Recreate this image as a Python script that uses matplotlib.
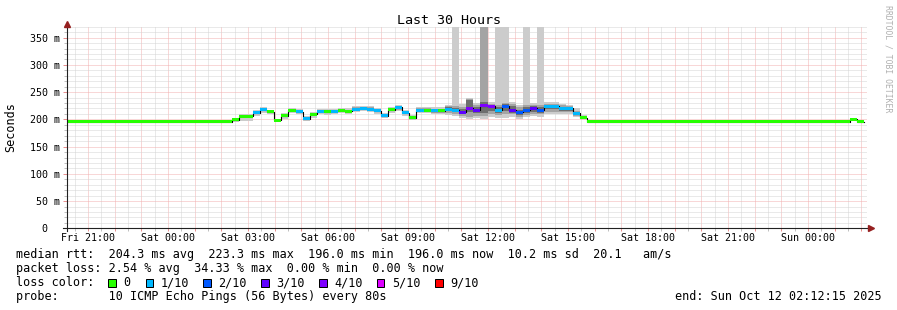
import numpy as np
import pandas as pd
import matplotlib
matplotlib.use("Agg")
import matplotlib.pyplot as plt
import matplotlib.dates as mdates
from matplotlib.patches import Rectangle

# ---- data (16 minute bins, values in ms) ----
end = pd.Timestamp("2025-10-12 02:12:15")
start = end - pd.Timedelta(hours=30)
bin_min = 16
bin_shift = 3  # first bin starts 3 min after graph start

busy_median = [199, 206, 206, 212, 218, 214, 198, 207, 217, 214,
               201, 209, 215, 214, 215, 217, 215, 219, 220, 219,
               216, 207, 218, 222, 212, 203, 217, 217, 216, 216,
               219, 217, 213, 220, 217, 225, 224, 217, 224, 217,
               213, 217, 220, 217, 224, 224, 220, 220, 211, 203]
busy_loss = [0, 0, 0, 1, 1, 0, 0, 0, 0, 1,
             1, 0, 1, 0, 1, 0, 0, 1, 1, 1,
             1, 1, 0, 1, 1, 0, 1, 0, 1, 0,
             1, 1, 3, 4, 3, 4, 4, 1, 2, 3,
             2, 2, 3, 2, 1, 1, 1, 1, 1, 0]
busy_outer_lo = [196, 197, 197, 206, 212, 209, 195, 201, 211, 209,
                 197, 203, 210, 208, 210, 211, 209, 213, 215, 213,
                 210, 202, 212, 215, 206, 199, 211, 211, 209, 209,
                 208, 206, 203, 200, 202, 200, 205, 202, 203, 205,
                 200, 204, 206, 205, 210, 210, 210, 209, 205, 200]
busy_outer_hi = [201, 209, 210, 217, 223, 218, 201, 211, 221, 219,
                 206, 213, 219, 219, 219, 221, 220, 224, 224, 224,
                 221, 212, 222, 227, 217, 208, 222, 222, 222, 222,
                 226, 400, 228, 240, 230, 400, 232, 400, 400, 232,
                 226, 400, 230, 400, 232, 232, 228, 226, 220, 208]
busy_mid_lo = [198, 202, 202, 209, 215, 212, 197, 204, 214, 211,
               199, 206, 212, 211, 212, 214, 212, 216, 217, 216,
               213, 204, 215, 218, 209, 201, 214, 214, 212, 212,
               212, 210, 207, 205, 207, 207, 210, 208, 209, 209,
               205, 208, 210, 209, 214, 214, 213, 213, 207, 201]
busy_mid_hi = [200, 208, 208, 215, 221, 216, 199, 209, 219, 217,
               204, 211, 217, 217, 217, 219, 218, 222, 222, 222,
               219, 210, 220, 225, 215, 206, 220, 220, 219, 219,
               224, 224, 222, 238, 226, 400, 228, 226, 230, 228,
               222, 226, 226, 226, 229, 229, 226, 224, 216, 206]
# darkest smoke, bins 53..72
inner_lo_53 = [215, 213, 209, 214, 211, 212, 216, 211, 216, 212,
               208, 212, 214, 212, 219, 219, 216, 216, 208, 202]
inner_hi_53 = [222, 221, 219, 236, 222, 232, 226, 222, 228, 224,
               218, 222, 224, 222, 227, 227, 223, 222, 214, 205]

median = np.array([196] * 23 + busy_median + [196] * 37 + [200, 196], float)
loss = np.array([0] * 23 + busy_loss + [0] * 39)
outer_lo = median.copy(); outer_lo[23:73] = busy_outer_lo
outer_hi = median.copy(); outer_hi[23:73] = busy_outer_hi
outer_hi[[18, 75, 89]] = 199
mid_lo = median.copy(); mid_lo[23:73] = busy_mid_lo
mid_hi = median.copy(); mid_hi[23:73] = busy_mid_hi
inner_lo = median.copy(); inner_lo[53:73] = inner_lo_53
inner_hi = median.copy(); inner_hi[53:73] = inner_hi_53

loss_colors = ['#26ff00', '#00b8ff', '#0059ff', '#5e00ff', '#7e00ff', '#dd00ff', '#ff0000']
loss_labels = ['0', '1/10', '2/10', '3/10', '4/10', '5/10', '9/10']

legend_lines = [
    "median rtt:  204.3 ms avg  223.3 ms max  196.0 ms min  196.0 ms now  10.2 ms sd  20.1   am/s",
    "packet loss: 2.54 % avg  34.33 % max  0.00 % min  0.00 % now",
    "loss color:",
    "probe:       10 ICMP Echo Pings (56 Bytes) every 80s",
]
end_text = "end: Sun Oct 12 02:12:15 2025"

# ---- figure ----
W, H = 897, 310
MONO = 'DejaVu Sans Mono'
plt.rcParams['font.family'] = MONO
fig = plt.figure(figsize=(W / 100, H / 100), dpi=100)
fig.patch.set_facecolor('white')
ax_l, ax_b, ax_w, ax_h = 66.7, 228.3, 800, 201.5
ax = fig.add_axes([ax_l / W, (H - ax_b) / H, ax_w / W, ax_h / H])
ax.set_axisbelow(True)

n = len(median)
t0 = start + pd.Timedelta(minutes=bin_shift)
edges = mdates.date2num(pd.date_range(t0, periods=n + 1, freq=f'{bin_min}min'))
bw = edges[1] - edges[0]

for lo, hi, c in [(outer_lo, outer_hi, '#cccccc'),
                  (mid_lo, mid_hi, '#a4a4a4'),
                  (inner_lo, inner_hi, '#6e6e6e')]:
    ax.bar(edges[:-1], hi - lo, bottom=lo, width=bw, align='edge', color=c,
           linewidth=0, antialiased=False, zorder=1)

ax.step(edges, np.append(median, median[-1]), where='post', color='black', lw=0.8, zorder=2)
hw = 2.8
ax.bar(edges[:-1], 2 * hw, bottom=median - hw, width=bw, align='edge',
       color=[loss_colors[k] for k in loss], linewidth=0, antialiased=False, zorder=3)

ax.set_xlim(mdates.date2num(start), mdates.date2num(end))
ax.set_ylim(0, 370)

hours = pd.date_range(start.ceil('h'), end, freq='h')
halfs = pd.date_range(start.ceil('30min'), end, freq='30min')
ax.set_xticks(mdates.date2num(hours),
              [t.strftime('%a %H:%M') if t.hour % 3 == 0 else '' for t in hours])
ax.set_xticks(mdates.date2num(halfs), minor=True)
ax.set_yticks(np.arange(0, 351, 50))
ax.set_yticks(np.arange(0, 371, 10), minor=True)

mgrid, grid = '#f2b0b0', '#d4d4d4'
ax.grid(True, which='major', color=mgrid, lw=0.72, linestyle=(0, (1, 1)))
ax.grid(True, which='minor', color=grid, lw=0.72, linestyle=(0, (1, 1)))
ax.tick_params(which='major', color='#e89090', length=2, width=0.72)
ax.tick_params(which='minor', color='#c0c0c0', length=2, width=0.72)
ax.tick_params(axis='x', labelsize=7.2, pad=1.6)
ax.tick_params(axis='y', labelleft=False, length=3)
for s in ax.spines.values():
    s.set_visible(False)

for v in range(0, 351, 50):
    lab = f"{v:3d} m" if v else "  0"
    ax.text(-36.7 / ax_w, v, lab, transform=ax.get_yaxis_transform(),
            ha='left', va='center_baseline', fontsize=7.2)

# axes with arrows
ax.plot([-4 / ax_w, 1.0016], [0, 0], transform=ax.transAxes, color='#202020',
        lw=0.8, clip_on=False, zorder=5)
ax.plot([0, 0], [-2.7 / ax_h, 1.012], transform=ax.transAxes, color='#202020',
        lw=0.8, clip_on=False, zorder=5)
ax.plot([1.0054], [0], marker='>', ms=4.2, color='#962020', mec='#962020',
        transform=ax.transAxes, clip_on=False, zorder=6)
ax.plot([0], [1.0139], marker='^', ms=4.2, color='#962020', mec='#962020',
        transform=ax.transAxes, clip_on=False, zorder=6)

def fx(x):
    return x / W

def fy(y):
    return 1 - y / H

fig.text(fx(448.5), fy(24), "Last 30 Hours", ha='center', va='baseline', fontsize=9.6)
fig.text(fx(11), fy(127.5), "Seconds", rotation=90, ha='center', va='center', fontsize=8.5)
fig.text(fx(888), fy(5), "RRDTOOL / TOBI OETIKER", rotation=270, ha='center', va='top',
         fontsize=5.9, color='#b0b0b0')

baselines = [258.3, 272, 286, 300]
for line, yb in zip(legend_lines, baselines):
    fig.text(fx(16), fy(yb), line, ha='left', va='baseline', fontsize=8.5)
fig.text(fx(882), fy(300), end_text, ha='right', va='baseline', fontsize=8.5)

box_x = [108, 145.7, 203.3, 261, 319, 376.7, 435]
for bx, c, lab in zip(box_x, loss_colors, loss_labels):
    fig.patches.append(Rectangle((fx(bx), fy(286.5)), 7.5 / W, 8 / H,
                                 transform=fig.transFigure, facecolor=c,
                                 edgecolor='black', lw=0.72))
    fig.text(fx(bx + 15), fy(286), lab, ha='left', va='baseline', fontsize=8.5)

fig.savefig("out.png", dpi=100)
